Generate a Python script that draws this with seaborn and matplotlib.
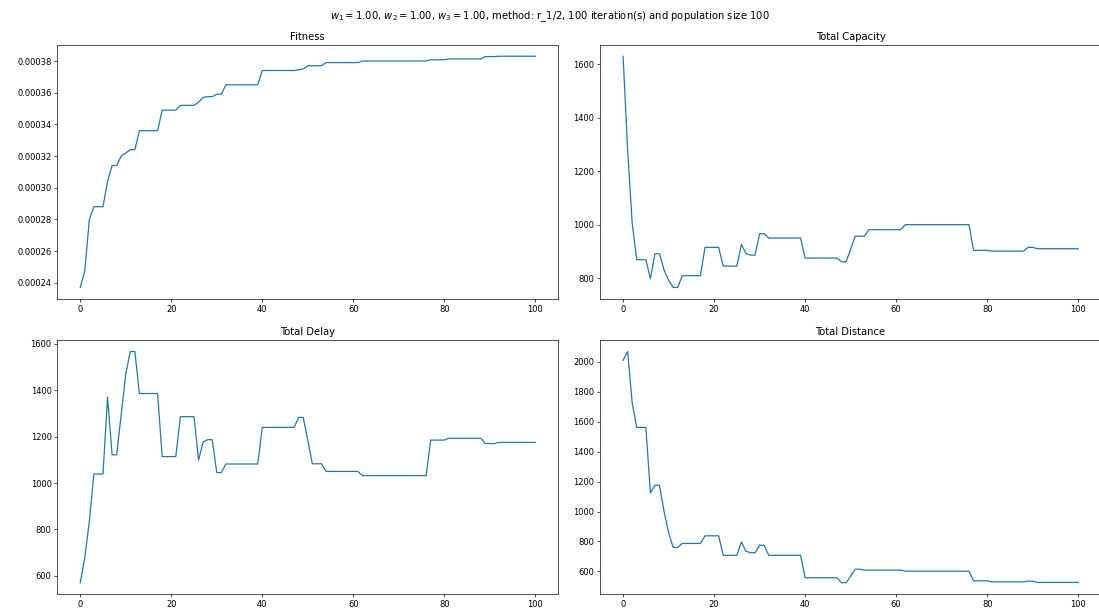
import numpy as np
import pandas as pd
import matplotlib
matplotlib.use("Agg")
import matplotlib.pyplot as plt
import seaborn as sns

iterations = list(range(101))

fitness = ([0.000237, 0.0002475, 0.000280, 0.000288, 0.000288, 0.000288, 0.000304,
            0.000314, 0.000314, 0.000320, 0.000322, 0.000324, 0.000324]
           + [0.000336] * 5 + [0.000349] * 4 + [0.000352] * 4
           + [0.000354, 0.000357, 0.0003575, 0.0003575, 0.000359, 0.000359]
           + [0.000365] * 8 + [0.000374] * 8
           + [0.0003745, 0.000375, 0.000377]
           + [0.000377] * 3 + [0.000379] * 8 + [0.000380] * 15
           + [0.0003808] * 4 + [0.0003813] * 8 + [0.0003828] * 3 + [0.000383] * 9)

capacity = ([1630, 1280, 1005, 869, 869, 869, 798, 891, 891, 830, 792, 765, 765]
            + [809] * 5 + [915] * 4 + [845] * 4
            + [926, 892, 886, 886, 966, 966]
            + [950] * 8 + [875] * 8
            + [861, 861, 908]
            + [957] * 3 + [981] * 8 + [1000] * 15
            + [904] * 4 + [901] * 8 + [915] * 2 + [910] * 10)

delay = ([570, 677, 835, 1039, 1039, 1039, 1370, 1122, 1122, 1294, 1469, 1567, 1567]
         + [1386] * 5 + [1114] * 4 + [1286] * 4
         + [1099, 1177, 1187, 1187, 1045, 1045]
         + [1082] * 8 + [1240] * 8
         + [1283, 1283, 1184]
         + [1083] * 3 + [1050] * 8 + [1032] * 15
         + [1185] * 4 + [1193] * 8 + [1170] * 3 + [1175] * 9)

distance = ([2009, 2067, 1723, 1561, 1561, 1561, 1124, 1175, 1175, 1000, 860, 760, 760]
            + [787] * 5 + [838] * 4 + [708] * 4
            + [797, 735, 725, 725, 775, 775]
            + [708] * 8 + [558] * 8
            + [525, 525, 569]
            + [615] * 2 + [609] * 9 + [602] * 15
            + [538] * 4 + [531] * 8 + [536] * 2 + [527] * 10)

titles = ["Fitness", "Total Capacity", "Total Delay", "Total Distance"]
series = [fitness, capacity, delay, distance]

fig, axes = plt.subplots(2, 2, figsize=(1099 / 60, 614 / 60), dpi=60)
fig.subplots_adjust(left=0.0523, right=1.0018, top=0.9272, bottom=0.0321,
                    wspace=0.0843, hspace=0.161)

for ax, title, vals in zip(axes.flat, titles, series):
    df = pd.DataFrame({"iteration": iterations, "value": vals})
    sns.lineplot(data=df, x="iteration", y="value", ax=ax, color="#1f77b4", linewidth=1.5)
    ax.set_title(title)
    ax.set_xlabel("")
    ax.set_ylabel("")

fig.suptitle(r"$w_1 = 1.00$, $w_2 = 1.00$, $w_3 = 1.00$, method: r_1/2, 100 iteration(s) and population size 100",
             y=0.985)

fig.savefig("out.png", dpi=60)
